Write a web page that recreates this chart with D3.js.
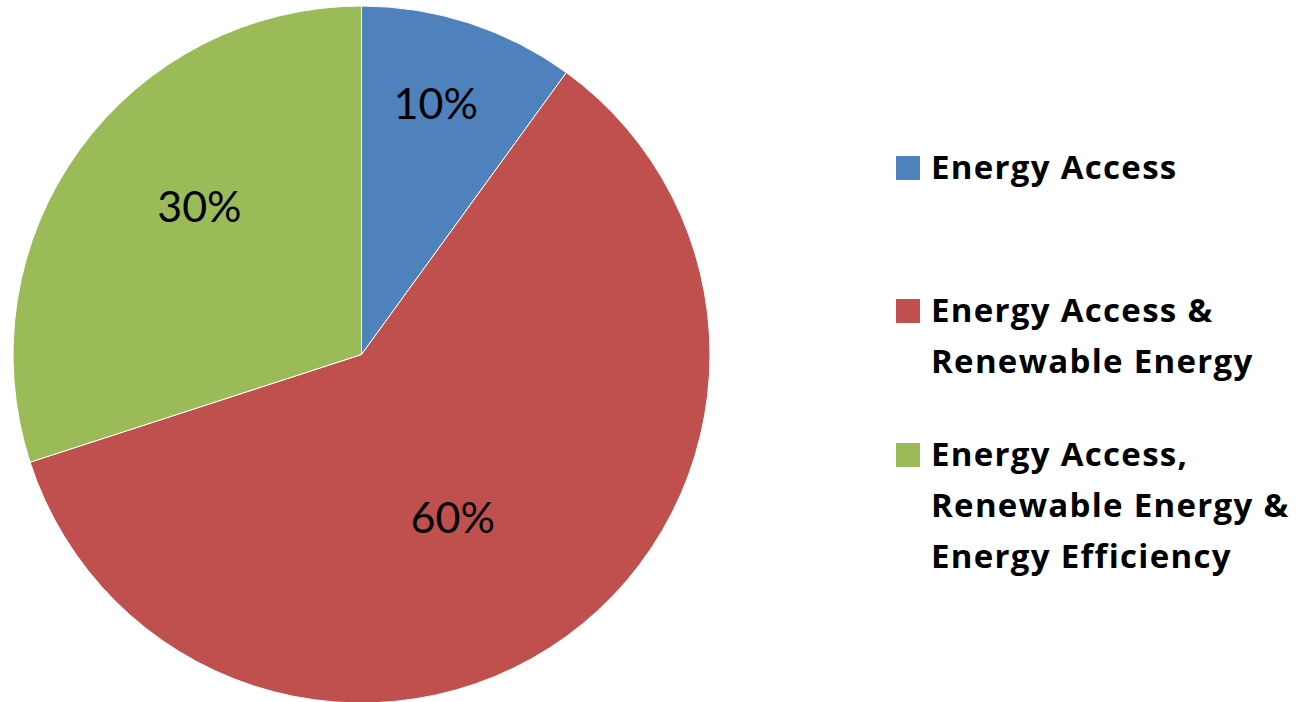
<!DOCTYPE html>
<html>
<head>
<meta charset="utf-8">
<script src="https://cdn.jsdelivr.net/npm/d3@7"></script>
<style>
  html, body { margin: 0; padding: 0; background: #fff; }
  svg { display: block; }
</style>
</head>
<body>
<svg id="chart" width="1309" height="702"></svg>
<script>
// ---- data ----
const categories = ["Energy Access", "Energy Access & Renewable Energy", "Energy Access, Renewable Energy & Energy Efficiency"];
const values = [10, 60, 30];
const valueLabels = ["10%", "60%", "30%"];
const legendLines = [["Energy Access"], ["Energy Access &", "Renewable Energy"], ["Energy Access,", "Renewable Energy &", "Energy Efficiency"]];
const colors = ["#4F81BD", "#C0504D", "#9BBB59"];

// ---- layout ----
const W = 1309, H = 702;
const cx = 361.5, cy = 354.5, R = 348.5;
// label placement (fraction of radius, angle nudge in degrees) to mimic Excel's best-fit
const labelPlace = [{k: 0.75, da: -1.5}, {k: 0.535, da: 6.7}, {k: 0.63, da: 6.4}];

const svg = d3.select("#chart");
const g = svg.append("g").attr("transform", `translate(${cx},${cy})`);

const pie = d3.pie().sort(null).value(d => d)(values);
const arc = d3.arc().innerRadius(0).outerRadius(R);

g.selectAll("path.slice").data(pie).join("path")
  .attr("class", "slice")
  .attr("d", arc)
  .attr("fill", (d, i) => colors[i])
  .attr("stroke", "#fff")
  .attr("stroke-width", 1);

const labelFont = "Lato, 'Open Sans', sans-serif";
g.selectAll("text.val").data(pie).join("text")
  .attr("class", "val")
  .attr("transform", (d, i) => {
    const a = (d.startAngle + d.endAngle) / 2 + labelPlace[i].da * Math.PI / 180;
    const r = R * labelPlace[i].k;
    return `translate(${r * Math.sin(a)},${-r * Math.cos(a)})`;
  })
  .attr("text-anchor", "middle")
  .attr("dy", "0.36em")
  .attr("font-family", labelFont)
  .attr("font-size", 43)
  .attr("fill", "#000")
  .text((d, i) => valueLabels[i]);

// ---- legend ----
const legend = svg.append("g").attr("transform", "translate(896,0)");
const legendTop = [156, 299, 443];
const lineH = 51;
categories.forEach((c, i) => {
  const lg = legend.append("g").attr("transform", `translate(0,${legendTop[i]})`);
  lg.append("rect").attr("x", 0).attr("y", 0).attr("width", 24).attr("height", 24).attr("fill", colors[i]);
  const t = lg.append("text")
    .attr("x", 35).attr("y", 23)
    .attr("font-family", "'Open Sans', Lato, sans-serif")
    .attr("font-weight", "bold")
    .attr("font-size", 33)
    .attr("letter-spacing", 1.3)
    .attr("fill", "#000");
  legendLines[i].forEach((ln, j) => {
    t.append("tspan").attr("x", 35).attr("dy", j === 0 ? 0 : lineH).text(ln);
  });
});
</script>
</body>
</html>
